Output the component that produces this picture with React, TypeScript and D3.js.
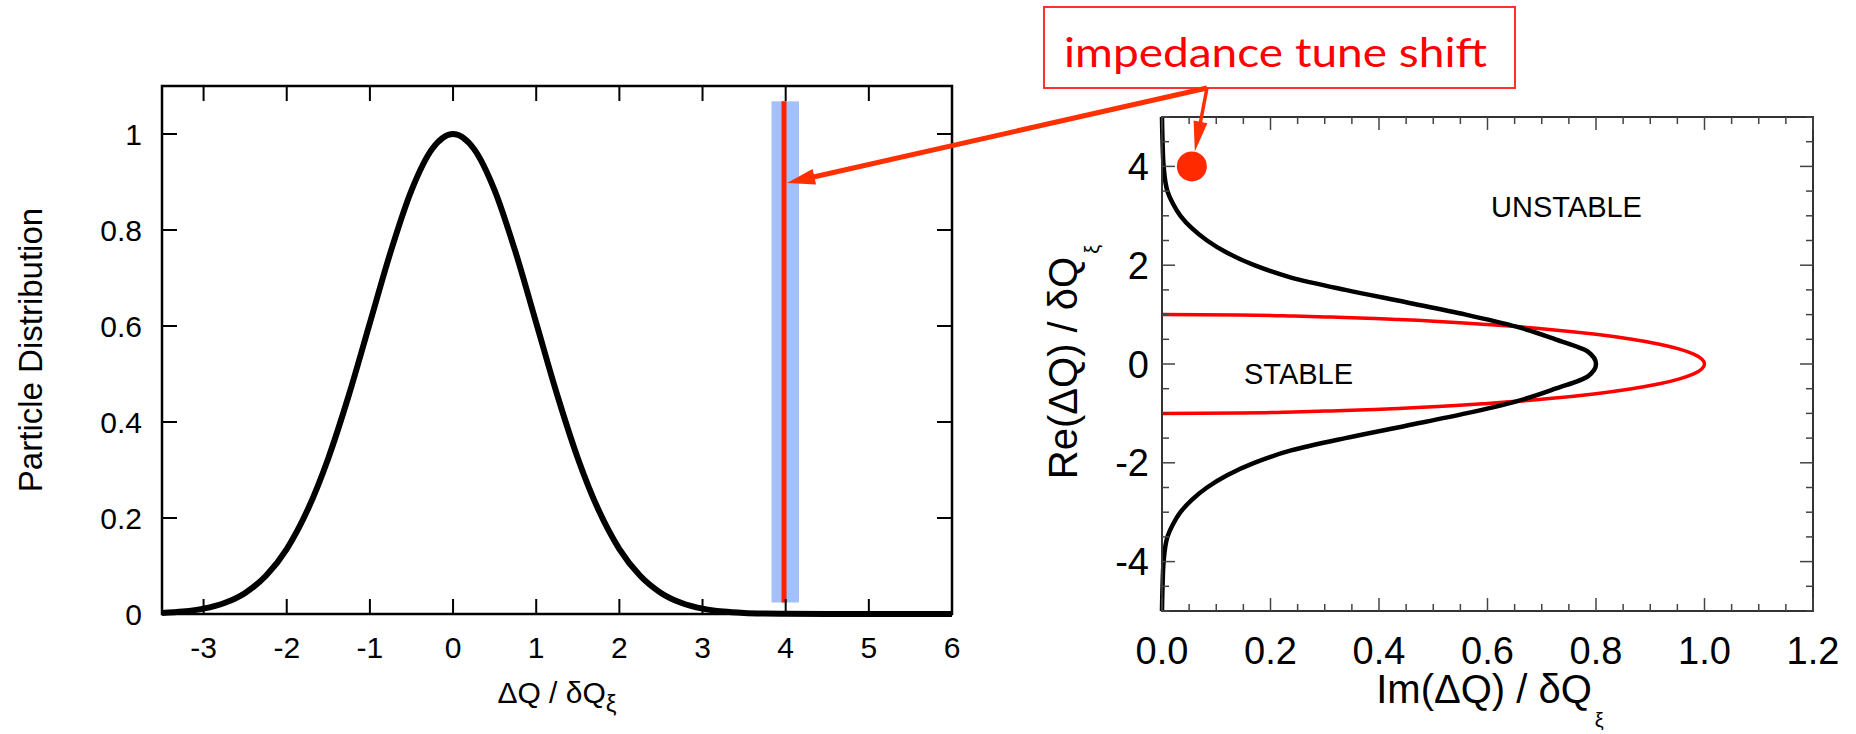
import React from "react";
import * as d3 from "d3";

// ---------- data ----------
// Left panel: particle distribution vs ΔQ/δQξ
const distX = [-3.5, -3.25, -3, -2.75, -2.5, -2.25, -2, -1.75, -1.5, -1.25, -1, -0.75, -0.5, -0.25, 0,
  0.25, 0.5, 0.75, 1, 1.25, 1.5, 1.75, 2, 2.25, 2.5, 2.75, 3, 3.25, 3.5, 3.75, 4, 4.5, 5, 5.5, 6];
const distY = [0.0022, 0.0051, 0.0111, 0.0228, 0.0439, 0.0796, 0.1353, 0.2165, 0.3247, 0.4578, 0.6065, 0.7548, 0.8825, 0.9692, 1.0,
  0.9692, 0.8825, 0.7548, 0.6065, 0.4578, 0.3247, 0.2165, 0.1353, 0.0796, 0.0439, 0.0228, 0.0111, 0.0051, 0.0022, 0.0009, 0.0003, 0.0, 0.0, 0.0, 0.0];

const leftXTicks = [-3, -2, -1, 0, 1, 2, 3, 4, 5, 6];
const leftXLabels = ["-3", "-2", "-1", "0", "1", "2", "3", "4", "5", "6"];
const leftYTicks = [0, 0.2, 0.4, 0.6, 0.8, 1];
const leftYLabels = ["0", "0.2", "0.4", "0.6", "0.8", "1"];

// impedance tune shift marker on the left panel
const tuneShift = 3.98;
const bandLo = 3.83;
const bandHi = 4.16;
const bandBottom = 0.024;
const bandTop = 1.068;
const arrowTargetY = 0.898;

// Right panel: stability diagram (Re on vertical, Im on horizontal), Re ascending
const gaussRe = [-5, -4.5, -4, -3.5, -3.25, -3, -2.75, -2.5, -2.25, -2, -1.75, -1.5, -1.25, -1, -0.75, -0.5, -0.25, 0,
  0.25, 0.5, 0.75, 1, 1.25, 1.5, 1.75, 2, 2.25, 2.5, 2.75, 3, 3.25, 3.5, 4, 4.5, 5];
const gaussIm = [0, 0.001, 0.003, 0.01, 0.02, 0.034, 0.055, 0.083, 0.12, 0.17, 0.238, 0.338, 0.45, 0.56, 0.655, 0.725, 0.785, 0.8,
  0.785, 0.725, 0.655, 0.56, 0.45, 0.338, 0.238, 0.17, 0.12, 0.083, 0.055, 0.034, 0.02, 0.01, 0.003, 0.001, 0];

const redRe = [-1, -0.99, -0.97, -0.95, -0.9, -0.8, -0.7, -0.6, -0.5, -0.4, -0.3, -0.2, -0.1, 0,
  0.1, 0.2, 0.3, 0.4, 0.5, 0.6, 0.7, 0.8, 0.9, 0.95, 0.97, 0.99, 1];
const redIm = [0, 0.141, 0.243, 0.312, 0.436, 0.6, 0.714, 0.8, 0.866, 0.917, 0.954, 0.98, 0.995, 1.0,
  0.995, 0.98, 0.954, 0.917, 0.866, 0.8, 0.714, 0.6, 0.436, 0.312, 0.243, 0.141, 0];

const rightXMajor = [0, 0.2, 0.4, 0.6, 0.8, 1.0, 1.2];
const rightXLabels = ["0.0", "0.2", "0.4", "0.6", "0.8", "1.0", "1.2"];
const rightYMajor = [-4, -2, 0, 2, 4];
const rightYLabels = ["-4", "-2", "0", "2", "4"];

const dotIm = 0.055;
const dotRe = 4.0;

// ---------- layout ----------
const W = 1856;
const H = 734;
const L = { left: 162, right: 952, top: 86, bottom: 614 };
const R = { left: 1162, right: 1813, top: 117, bottom: 611 };
const FONT = "'Liberation Sans', Arial, Helvetica, sans-serif";

function arrowShape(x1: number, y1: number, x2: number, y2: number, len: number, hw: number) {
  const dx = x2 - x1, dy = y2 - y1;
  const d = Math.hypot(dx, dy);
  const ux = dx / d, uy = dy / d;
  const bx = x2 - ux * len, by = y2 - uy * len;
  const px = -uy, py = ux;
  return {
    line: { x1, y1, x2: bx + ux * 2, y2: by + uy * 2 },
    head: `${x2},${y2} ${bx + px * hw},${by + py * hw} ${bx - px * hw},${by - py * hw}`,
  };
}

export default function App() {
  const xL = d3.scaleLinear().domain([-3.5, 6]).range([L.left, L.right]);
  const yL = d3.scaleLinear().domain([0, 1.1]).range([L.bottom, L.top]);
  const xR = d3.scaleLinear().domain([0, 1.2]).range([R.left, R.right]);
  const yR = d3.scaleLinear().domain([-5, 5]).range([R.bottom, R.top]);

  const distLine = d3.line<number>()
    .x((_, i) => xL(distX[i]))
    .y((d) => yL(d))
    .curve(d3.curveMonotoneX);

  const gaussLine = d3.line<number>()
    .x((d) => xR(d))
    .y((_, i) => yR(gaussRe[i]))
    .curve(d3.curveMonotoneY);

  const redLine = d3.line<number>()
    .x((d) => xR(d))
    .y((_, i) => yR(redRe[i]))
    .curve(d3.curveMonotoneY);

  const rightXMinor = d3.range(0, 1.2001, 0.05);
  const rightYMinor = d3.range(-5, 5.001, 0.5);

  const boxX = 1044, boxY = 7, boxW = 471, boxH = 81;
  const start = { x: 1207, y: boxY + boxH };
  const a1 = arrowShape(start.x, start.y, xL(tuneShift) + 3, yL(arrowTargetY), 28, 8);
  const dotR = 15;
  const a2 = arrowShape(start.x, start.y, xR(dotIm) + 3, yR(dotRe) - dotR, 30, 7);

  const arrowColor = "#ff3000";

  return (
    <svg width={W} height={H} style={{ position: "absolute", left: 0, top: 0, background: "#fff" }}
      fontFamily={FONT}>
      <rect x={0} y={0} width={W} height={H} fill="#fff" />
      {/* ---------- Left panel ---------- */}
      <g>
        <rect x={xL(bandLo)} y={yL(bandTop)} width={xL(bandHi) - xL(bandLo)}
          height={yL(bandBottom) - yL(bandTop)} fill="#a3c0fb" />
        <line x1={xL(tuneShift)} x2={xL(tuneShift)} y1={yL(bandTop)} y2={yL(bandBottom)}
          stroke="#ff2200" strokeWidth={5} />
        <path d={distLine(distY) || ""} fill="none" stroke="#000" strokeWidth={6} strokeLinejoin="round" />
        <rect x={L.left} y={L.top} width={L.right - L.left} height={L.bottom - L.top}
          fill="none" stroke="#000" strokeWidth={2.5} />
        {leftXTicks.map((t) => (
          <g key={"lx" + t}>
            <line x1={xL(t)} x2={xL(t)} y1={L.bottom} y2={L.bottom - 15} stroke="#000" strokeWidth={2} />
            <line x1={xL(t)} x2={xL(t)} y1={L.top} y2={L.top + 15} stroke="#000" strokeWidth={2} />
          </g>
        ))}
        {leftXTicks.map((t, i) => (
          <text key={"lxl" + t} x={xL(t)} y={658} fontSize={30} textAnchor="middle">{leftXLabels[i]}</text>
        ))}
        {leftYTicks.map((t) => (
          <g key={"ly" + t}>
            <line x1={L.left} x2={L.left + 15} y1={yL(t)} y2={yL(t)} stroke="#000" strokeWidth={2} />
            <line x1={L.right} x2={L.right - 15} y1={yL(t)} y2={yL(t)} stroke="#000" strokeWidth={2} />
          </g>
        ))}
        {leftYTicks.map((t, i) => (
          <text key={"lyl" + t} x={142} y={yL(t)} dy="0.36em" fontSize={30} textAnchor="end">{leftYLabels[i]}</text>
        ))}
        <text x={557} y={703} fontSize={30} textAnchor="middle">
          ΔQ / δQ<tspan fontSize={24} dy={9}>ξ</tspan>
        </text>
        <text transform={`translate(42,350) rotate(-90)`} fontSize={33} textAnchor="middle">Particle Distribution</text>
      </g>

      {/* ---------- Right panel ---------- */}
      <g>
        <path d={redLine(redIm) || ""} fill="none" stroke="#ff0000" strokeWidth={3.5} />
        <path d={gaussLine(gaussIm) || ""} fill="none" stroke="#000" strokeWidth={4.5} />
        <rect x={R.left} y={R.top} width={R.right - R.left} height={R.bottom - R.top}
          fill="none" stroke="#333" strokeWidth={2} />
        {rightXMinor.map((t, i) => {
          const major = i % 4 === 0;
          const len = major ? 13 : 7;
          return (
            <g key={"rx" + i}>
              <line x1={xR(t)} x2={xR(t)} y1={R.bottom} y2={R.bottom - len} stroke="#444" strokeWidth={1.5} />
              <line x1={xR(t)} x2={xR(t)} y1={R.top} y2={R.top + len} stroke="#444" strokeWidth={1.5} />
            </g>
          );
        })}
        {rightYMinor.map((t, i) => {
          const major = i % 4 === 2;
          const len = major ? 13 : 7;
          return (
            <g key={"ry" + i}>
              <line x1={R.left} x2={R.left + len} y1={yR(t)} y2={yR(t)} stroke="#444" strokeWidth={1.5} />
              <line x1={R.right} x2={R.right - len} y1={yR(t)} y2={yR(t)} stroke="#444" strokeWidth={1.5} />
            </g>
          );
        })}
        {rightXMajor.map((t, i) => (
          <text key={"rxl" + i} x={xR(t)} y={664} fontSize={38} textAnchor="middle">{rightXLabels[i]}</text>
        ))}
        {rightYMajor.map((t, i) => (
          <text key={"ryl" + i} x={1149} y={yR(t)} dy="0.36em" fontSize={38} textAnchor="end">{rightYLabels[i]}</text>
        ))}
        <text x={1490} y={703} fontSize={40} textAnchor="middle">
          Im(ΔQ) / δQ<tspan fontSize={20} dy={24} dx={3}>ξ</tspan>
        </text>
        <text transform={`translate(1077,362) rotate(-90)`} fontSize={40} textAnchor="middle">
          Re(ΔQ) / δQ<tspan fontSize={20} dy={22} dx={3}>ξ</tspan>
        </text>
        <text x={1491} y={217} fontSize={29}>UNSTABLE</text>
        <text x={1244} y={384} fontSize={29}>STABLE</text>
        <circle cx={xR(dotIm)} cy={yR(dotRe)} r={dotR} fill="#ff2a00" />
      </g>

      {/* ---------- Annotation ---------- */}
      <rect x={boxX} y={boxY} width={boxW} height={boxH} fill="#fff" stroke="#ff3030" strokeWidth={2} />
      <text x={1064} y={67} fontSize={40} fill="#ff0000" fontFamily="Lato, 'Open Sans', sans-serif"
        textLength={423} lengthAdjust="spacingAndGlyphs">impedance tune shift</text>
      <line {...a1.line} stroke={arrowColor} strokeWidth={5} />
      <polygon points={a1.head} fill={arrowColor} />
      <line {...a2.line} stroke={arrowColor} strokeWidth={3.5} />
      <polygon points={a2.head} fill={arrowColor} />
    </svg>
  );
}
